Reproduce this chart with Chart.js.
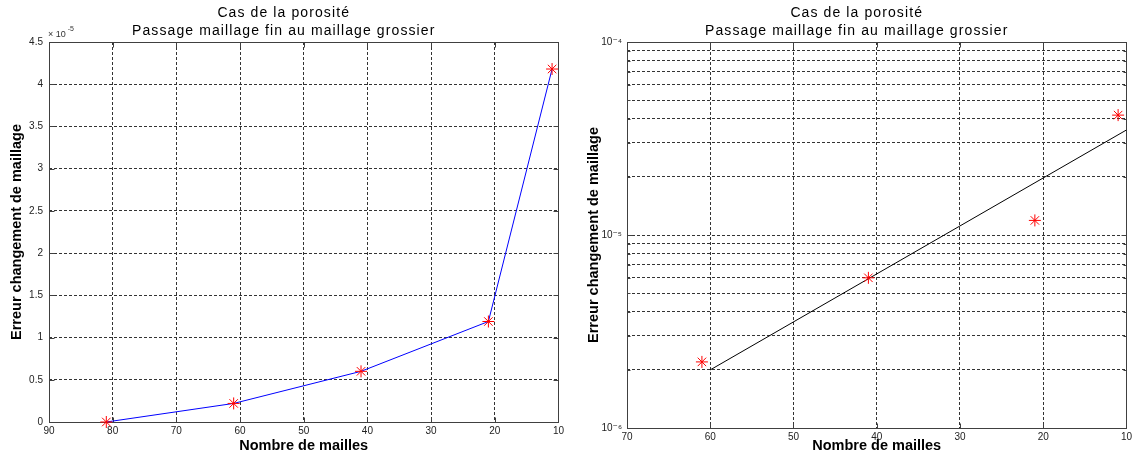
<!DOCTYPE html>
<html>
<head>
<meta charset="utf-8">
<script src="https://cdn.jsdelivr.net/npm/chart.js@4.4.0/dist/chart.umd.min.js"></script>
<style>
  body { margin: 0; background: #fff; }
  #wrap { position: relative; width: 1135px; height: 462px; }
  .pane { position: absolute; top: 0; height: 462px; }
</style>
</head>
<body>
<div id="wrap">
  <div class="pane" style="left:0;width:567px"><canvas id="lin_graph"></canvas></div>
  <div class="pane" style="left:567px;width:568px"><canvas id="log_graph"></canvas></div>
</div>
<script>
// values
var nbMailles = [81, 61, 41, 21, 11];
var erreur = [0, 2.2e-6, 6.0e-6, 1.19e-5, 4.18e-5];
// straight fit drawn on the log plot
var fitMailles = [60, 10];
var fitErreur = [2.0e-6, 3.5e-5];

var titleLines = ['Cas de la porosité', 'Passage maillage fin au maillage grossier'];
var xLabel = 'Nombre de mailles';
var yLabel = 'Erreur changement de maillage';
var linTicks = ['0', '0.5', '1', '1.5', '2', '2.5', '3', '3.5', '4', '4.5'];
var logTicks = ['10⁻⁶', '10⁻⁵', '10⁻⁴'];
var linExponent = '-5';

var FONT = '"Liberation Sans", Arial, "DejaVu Sans", sans-serif';

function pairs(xs, ys) {
  return xs.map(function (x, i) { return { x: x, y: ys[i] }; });
}

// matlab style: box, inward ticks, two line title, x10^n label
var matlabPlugin = {
  id: 'matlab',
  beforeDatasetsDraw: function (chart) {
    var ctx = chart.ctx, a = chart.chartArea;
    var L = Math.round(a.left) + 0.5, R = Math.round(a.right) + 0.5;
    var T = Math.round(a.top) + 0.5, B = Math.round(a.bottom) + 0.5;
    ctx.save();
    ctx.strokeStyle = '#404040';
    ctx.lineWidth = 1;
    ctx.beginPath();
    chart.scales.x.ticks.forEach(function (t) {
      var px = Math.round(chart.scales.x.getPixelForValue(t.value)) + 0.5;
      ctx.moveTo(px, B); ctx.lineTo(px, B - 5);
      ctx.moveTo(px, T); ctx.lineTo(px, T + 5);
    });
    chart.scales.y.ticks.forEach(function (t) {
      var py = Math.round(chart.scales.y.getPixelForValue(t.value)) + 0.5;
      var len = t.major === false ? 3 : 5;
      ctx.moveTo(L, py); ctx.lineTo(L + len, py);
      ctx.moveTo(R, py); ctx.lineTo(R - len, py);
    });
    ctx.stroke();
    ctx.strokeRect(L, T, R - L, B - T);
    ctx.restore();
  },
  afterDraw: function (chart, args, opts) {
    var ctx = chart.ctx, a = chart.chartArea;
    ctx.save();
    ctx.fillStyle = '#000';
    ctx.font = '14px ' + FONT;
    ctx.letterSpacing = '1.1px';
    ctx.textAlign = 'center';
    ctx.textBaseline = 'alphabetic';
    var cx = (a.left + a.right) / 2 - 20;
    titleLines.forEach(function (t, i) { ctx.fillText(t, cx, 17 + i * 18); });
    if (opts.exponent) {
      ctx.letterSpacing = '0px';
      ctx.textAlign = 'left';
      ctx.fillStyle = '#333';
      ctx.font = '9px ' + FONT;
      ctx.fillText('× 10', a.left - 1, a.top - 5);
      var w = ctx.measureText('× 10').width;
      ctx.font = '7px ' + FONT;
      ctx.fillText(opts.exponent, a.left + w + 1, a.top - 11);
    }
    ctx.restore();
  }
};

var gridStyle = { color: '#333', lineWidth: 1, drawTicks: false };
var tickFont = { family: FONT, size: 10 };
var titleFont = { family: FONT, size: 14.5, weight: 'bold' };

// left chart, linear scale
var linChart = new Chart(document.getElementById('lin_graph'), {
  type: 'line',
  data: {
    datasets: [{
      data: pairs(nbMailles, erreur),
      borderColor: '#0000ff',
      borderWidth: 1,
      tension: 0,
      pointStyle: 'star',
      pointRadius: 6,
      pointBorderColor: '#ff0000',
      pointBackgroundColor: '#ff0000',
      pointBorderWidth: 1,
      clip: false
    }]
  },
  options: {
    responsive: true,
    maintainAspectRatio: false,
    animation: false,
    layout: { padding: { top: 42, right: 8, left: 0, bottom: 0 } },
    scales: {
      x: {
        type: 'linear', reverse: true, min: 10, max: 90,
        ticks: { stepSize: 10, font: tickFont, color: '#222', padding: 3, maxRotation: 0 },
        grid: gridStyle,
        border: { display: false, dash: [3, 2] },
        title: { display: true, text: xLabel, font: titleFont, color: '#000', padding: { top: 0, bottom: 7.3 } },
        afterFit: function (s) { s.height = 40; }
      },
      y: {
        type: 'linear', min: 0, max: 4.5e-5,
        afterBuildTicks: function (s) {
          s.ticks = linTicks.map(function (t) { return { value: parseFloat(t) * 1e-5 }; });
        },
        ticks: {
          font: tickFont, color: '#222', padding: 6, autoSkip: false,
          callback: function (v, i) { return linTicks[i]; }
        },
        grid: gridStyle,
        border: { display: false, dash: [3, 2] },
        title: { display: true, text: yLabel, font: titleFont, color: '#000', padding: { top: 8.3, bottom: 0 } },
        afterFit: function (s) { s.width = 49; }
      }
    },
    plugins: {
      legend: { display: false },
      tooltip: { enabled: false },
      matlab: { exponent: linExponent }
    }
  },
  plugins: [matlabPlugin]
});

// right chart, log scale (zero error cannot be shown)
var logPts = pairs(nbMailles, erreur).filter(function (p) { return p.y > 0; });

var logChart = new Chart(document.getElementById('log_graph'), {
  type: 'line',
  data: {
    datasets: [{
      data: logPts,
      showLine: false,
      pointStyle: 'star',
      pointRadius: 6,
      pointBorderColor: '#ff0000',
      pointBackgroundColor: '#ff0000',
      pointBorderWidth: 1,
      clip: false
    }, {
      data: pairs(fitMailles, fitErreur),
      borderColor: '#000',
      borderWidth: 1,
      pointRadius: 0,
      tension: 0
    }]
  },
  options: {
    responsive: true,
    maintainAspectRatio: false,
    animation: false,
    layout: { padding: { top: 42, right: 8, left: 0, bottom: 0 } },
    scales: {
      x: {
        type: 'linear', reverse: true, min: 10, max: 70,
        ticks: { stepSize: 10, font: tickFont, color: '#222', padding: 3, maxRotation: 0 },
        grid: gridStyle,
        border: { display: false, dash: [3, 2] },
        title: { display: true, text: xLabel, font: titleFont, color: '#000', padding: { top: 0, bottom: 7.3 } },
        afterFit: function (s) { s.height = 34; }
      },
      y: {
        type: 'logarithmic', min: 1e-6, max: 1e-4,
        afterBuildTicks: function (s) {
          var t = [];
          for (var d = 0; d < logTicks.length; d++) {
            var base = Math.pow(10, -6 + d);
            var last = d === logTicks.length - 1 ? 1 : 9;
            for (var m = 1; m <= last; m++) t.push({ value: m * base, major: m === 1, label: m === 1 ? logTicks[d] : '' });
          }
          s.ticks = t;
        },
        ticks: {
          font: tickFont, color: '#222', padding: 5, autoSkip: false,
          callback: function (v, i, all) { return all[i].label; }
        },
        grid: gridStyle,
        border: { display: false, dash: [3, 2] },
        title: { display: true, text: yLabel, font: titleFont, color: '#000', padding: { top: 18.3, bottom: 0 } },
        afterFit: function (s) { s.width = 60; }
      }
    },
    plugins: {
      legend: { display: false },
      tooltip: { enabled: false },
      matlab: {}
    }
  },
  plugins: [matlabPlugin]
});
</script>
</body>
</html>
